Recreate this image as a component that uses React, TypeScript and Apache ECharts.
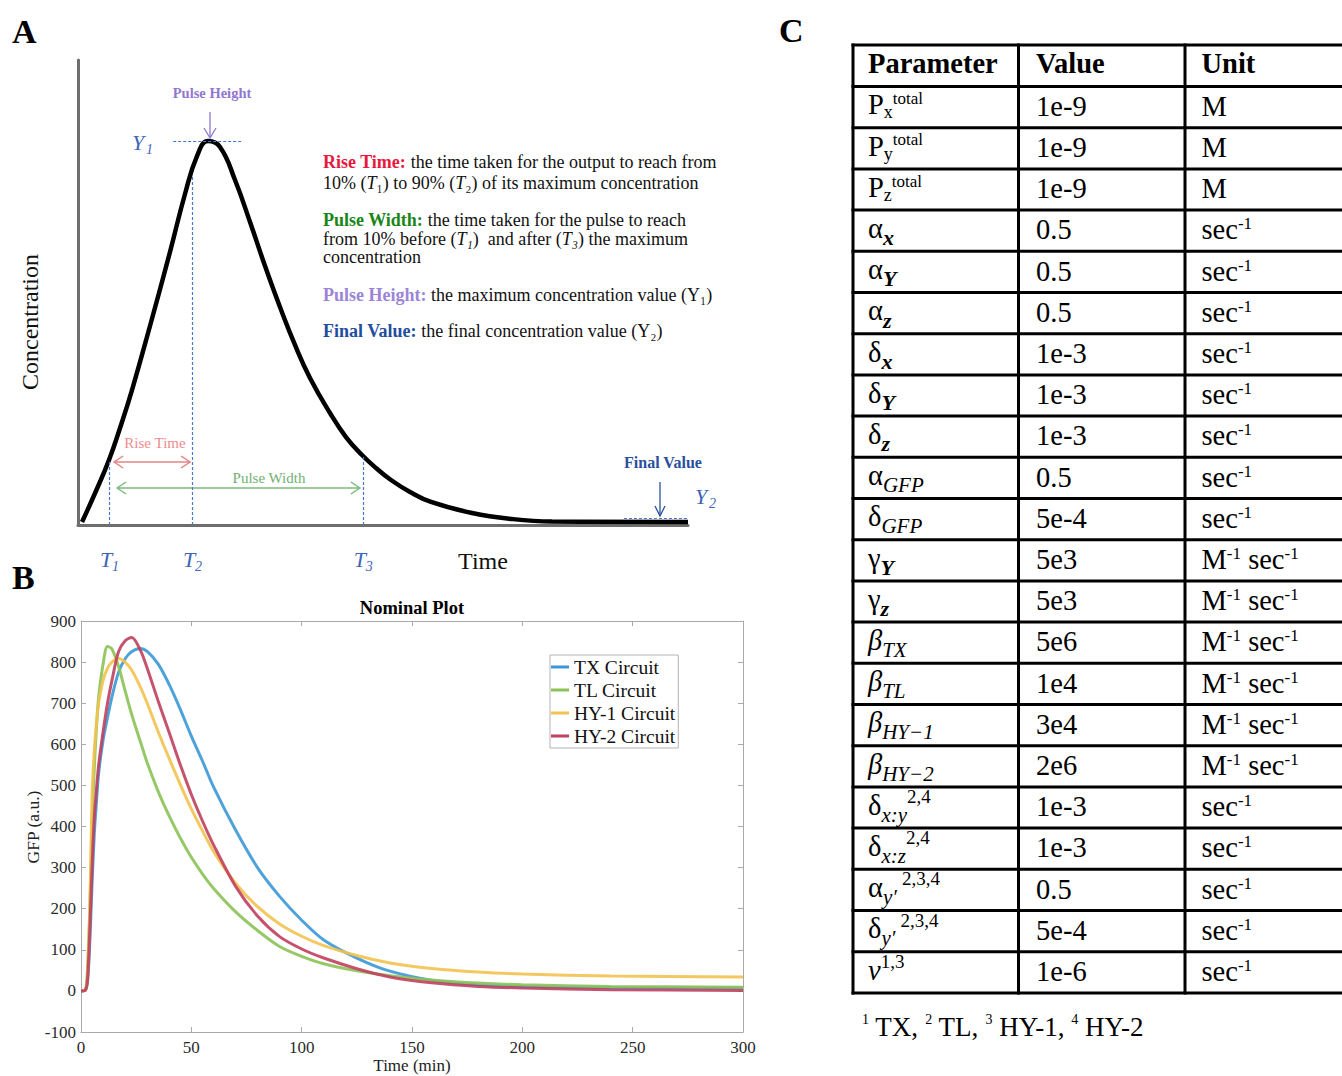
import React, { useEffect, useRef } from 'react';
import * as echarts from 'echarts';

const SERIF = '"Liberation Serif", "Times New Roman", Times, serif';

// ---------------- Panel A : schematic pulse (arbitrary units) ----------------
const schematicTime = [0.66, 2.95, 5.08, 6.89, 8.85, 11.8, 15.08, 17.54, 19.51, 21.31, 23.28, 25.74, 28.2, 30.66, 33.11, 35.57, 38.03, 41.31, 43.93, 46.56, 48.85, 51.31, 54.43, 57.87, 64.59, 71.15, 77.7, 100];
const schematicConc = [0.65, 7.31, 13.98, 20.86, 29.03, 42.8, 58.71, 71.18, 79.35, 82.58, 81.29, 74.19, 65.16, 55.7, 46.88, 38.71, 31.61, 24.09, 18.92, 15.05, 12.26, 9.68, 7.1, 4.95, 2.58, 1.29, 0.75, 0.65];
const pulseMarkTimes = [5.1, 18.7, 46.7]; // T1, T2, T3
const pulseMarkTops = [13.9, 75.0, 15.0];
const pulseMarkLabels = ['1', '2', '3'];
const peakLevel = 82.6;
const peakSpan = [15.6, 27.0];
const finalLevel = 1.5;
const finalSpan = [89.5, 100];

// ---------------- Panel B : nominal plot ----------------
const timeMin = [0, 2, 3, 4, 5, 6, 7, 8, 10, 12, 14, 17, 20, 23, 27, 30, 35, 40, 45, 50, 55, 60, 70, 80, 90, 100, 110, 125, 140, 160, 180, 200, 240, 300];
const txCircuit = [0, 2, 25, 120, 260, 380, 460, 530, 610, 665, 715, 775, 808, 826, 833, 826, 795, 745, 685, 620, 560, 497, 392, 300, 230, 172, 124, 80, 48, 25, 15, 11, 8, 7];
const tlCircuit = [0, 2, 60, 200, 400, 540, 640, 715, 795, 838, 832, 790, 730, 672, 605, 555, 485, 425, 372, 325, 285, 250, 193, 147, 108, 84, 66, 49, 37, 26, 19, 15, 11, 9];
const hy1Circuit = [0, 2, 50, 200, 470, 583, 650, 700, 755, 785, 800, 809, 800, 780, 738, 700, 630, 565, 502, 443, 390, 340, 262, 205, 163, 133, 110, 86, 68, 54, 46, 41, 36, 34];
const hy2Circuit = [0, 2, 30, 150, 300, 420, 490, 550, 630, 700, 755, 825, 852, 860, 828, 785, 705, 628, 550, 478, 414, 356, 255, 182, 132, 102, 80, 54, 34, 19, 11, 7, 3, 1];
const circuitNames = ['TX Circuit', 'TL Circuit', 'HY-1 Circuit', 'HY-2 Circuit'];
const circuitValues = [txCircuit, tlCircuit, hy1Circuit, hy2Circuit];
const circuitColors = ['#3b98d6', '#8cc257', '#f3c24f', '#c0405e'];

// ---------------- Panel C : parameter table ----------------
const tableHeader = ['Parameter', 'Value', 'Unit'];
const paramPieces: [string, string][][] = [
  [['n', 'P'], ['sub', 'x'], ['sup', 'total']],
  [['n', 'P'], ['sub', 'y'], ['sup', 'total']],
  [['n', 'P'], ['sub', 'z'], ['sup', 'total']],
  [['n', 'α'], ['msub', 'x']],
  [['n', 'α'], ['msub', 'Y']],
  [['n', 'α'], ['msub', 'z']],
  [['n', 'δ'], ['msub', 'x']],
  [['n', 'δ'], ['msub', 'Y']],
  [['n', 'δ'], ['msub', 'z']],
  [['n', 'α'], ['isub', 'GFP']],
  [['n', 'δ'], ['isub', 'GFP']],
  [['n', 'γ'], ['msub', 'Y']],
  [['n', 'γ'], ['msub', 'z']],
  [['ni', 'β'], ['isub', 'TX']],
  [['ni', 'β'], ['isub', 'TL']],
  [['ni', 'β'], ['isub', 'HY−1']],
  [['ni', 'β'], ['isub', 'HY−2']],
  [['n', 'δ'], ['isub', 'x:y'], ['sup2', '2,4']],
  [['n', 'δ'], ['isub', 'x:z'], ['sup2', '2,4']],
  [['n', 'α'], ['isub', 'y′ '], ['sup2', '2,3,4']],
  [['n', 'δ'], ['isub', 'y′ '], ['sup2', '2,3,4']],
  [['ni', 'ν'], ['sup2', '1,3']],
];
const paramValues = ['1e-9', '1e-9', '1e-9', '0.5', '0.5', '0.5', '1e-3', '1e-3', '1e-3', '0.5', '5e-4', '5e3', '5e3', '5e6', '1e4', '3e4', '2e6', '1e-3', '1e-3', '0.5', '5e-4', '1e-6'];
const paramUnits = ['M', 'M', 'M', 's', 's', 's', 's', 's', 's', 's', 's', 'Ms', 'Ms', 'Ms', 'Ms', 'Ms', 'Ms', 's', 's', 's', 's', 's'];
const unitPieces: Record<string, [string, string][]> = {
  M: [['n', 'M']],
  s: [['n', 'sec'], ['sup', '-1']],
  Ms: [['n', 'M'], ['sup', '-1'], ['n', ' sec'], ['sup', '-1']],
};
const footnotePieces: [string, string][] = [
  ['fs', '1'], ['f', ' TX, '], ['fs', '2'], ['f', ' TL, '], ['fs', '3'], ['f', ' HY-1, '], ['fs', '4'], ['f', ' HY-2'],
];

const PIECE: Record<string, { size: number; weight: string; style: string; dy: number }> = {
  n: { size: 28.5, weight: 'normal', style: 'normal', dy: 0 },
  ni: { size: 28.5, weight: 'normal', style: 'italic', dy: 0 },
  sub: { size: 18, weight: 'normal', style: 'normal', dy: 4 },
  msub: { size: 22, weight: 'bold', style: 'italic', dy: 7 },
  isub: { size: 21, weight: 'normal', style: 'italic', dy: 7 },
  sup: { size: 17, weight: 'normal', style: 'normal', dy: -10 },
  sup2: { size: 19, weight: 'normal', style: 'normal', dy: -12 },
  f: { size: 27, weight: 'normal', style: 'normal', dy: 0 },
  fs: { size: 14, weight: 'normal', style: 'normal', dy: -12 },
};

let measureCtx: CanvasRenderingContext2D | null = null;
function measure(text: string, size: number, weight: string, style: string) {
  if (!measureCtx) measureCtx = document.createElement('canvas').getContext('2d');
  if (!measureCtx) return text.length * size * 0.5;
  measureCtx.font = `${style} ${weight} ${size}px ${SERIF}`;
  return measureCtx.measureText(text).width;
}

function txt(x: number, y: number, text: string, o: any = {}) {
  return {
    type: 'text',
    x,
    y,
    rotation: o.rotation || 0,
    silent: true,
    style: {
      text,
      fontSize: o.fontSize || 16,
      fontFamily: SERIF,
      fontWeight: o.fontWeight || 'normal',
      fontStyle: o.fontStyle || 'normal',
      fill: o.fill || '#111',
      textAlign: o.textAlign || 'left',
      textVerticalAlign: 'middle',
      rich: o.rich,
    },
  };
}

function pieceElems(pieces: [string, string][], x0: number, baseline: number) {
  const out: any[] = [];
  let x = x0;
  for (const [kind, text] of pieces) {
    const k = PIECE[kind];
    out.push(
      txt(x, baseline + k.dy - 0.34 * k.size, text, {
        fontSize: k.size,
        fontWeight: k.weight,
        fontStyle: k.style,
        fill: '#000',
      })
    );
    x += measure(text, k.size, k.weight, k.style);
  }
  return out;
}

function arrowHead(x: number, y: number, dir: 'l' | 'r' | 'd', len: number, half: number) {
  if (dir === 'l') return [[x + len, y - half], [x, y], [x + len, y + half]];
  if (dir === 'r') return [[x - len, y - half], [x, y], [x - len, y + half]];
  return [[x - half, y - len], [x, y], [x + half, y - len]];
}

function buildOption() {
  const axisGrey = '#a9a9a9';
  const boxAxis = (extra: any) => ({
    gridIndex: 1,
    type: 'value',
    axisLine: { show: true, onZero: false, lineStyle: { color: axisGrey, width: 1 } },
    axisTick: { show: true, inside: true, length: 5, lineStyle: { color: axisGrey } },
    splitLine: { show: false },
    ...extra,
  });
  const tickLabel = { fontFamily: SERIF, fontSize: 17, color: '#2b2b2b' };
  return {
    animation: false,
    backgroundColor: '#ffffff',
    grid: [
      { left: 78, top: 60, width: 610, height: 465 },
      { left: 81, top: 621, width: 662, height: 411 },
    ],
    xAxis: [
      {
        gridIndex: 0,
        type: 'value',
        min: 0,
        max: 100,
        axisLine: { show: true, onZero: false, lineStyle: { color: '#6e6e6e', width: 3 } },
        axisTick: { show: false },
        axisLabel: { show: false },
        splitLine: { show: false },
      },
      boxAxis({ min: 0, max: 300, interval: 50, position: 'bottom', axisLabel: { ...tickLabel, margin: 7 } }),
      boxAxis({ min: 0, max: 300, interval: 50, position: 'top', axisLabel: { show: false } }),
    ],
    yAxis: [
      {
        gridIndex: 0,
        type: 'value',
        min: 0,
        max: 100,
        axisLine: { show: true, onZero: false, lineStyle: { color: '#6e6e6e', width: 3 } },
        axisTick: { show: false },
        axisLabel: { show: false },
        splitLine: { show: false },
      },
      boxAxis({ min: -100, max: 900, interval: 100, position: 'left', axisLabel: { ...tickLabel, margin: 5 } }),
      boxAxis({ min: -100, max: 900, interval: 100, position: 'right', axisLabel: { show: false } }),
    ],
    legend: {
      data: circuitNames,
      orient: 'vertical',
      left: 550,
      top: 655,
      icon: 'rect',
      itemWidth: 18,
      itemHeight: 3,
      itemGap: 3,
      padding: [2, 3, 2, 1],
      backgroundColor: '#ffffff',
      borderColor: '#b3b3b3',
      borderWidth: 1,
      textStyle: { fontFamily: SERIF, fontSize: 19.5, color: '#111' },
    },
    series: [
      {
        name: 'schematic',
        type: 'line',
        xAxisIndex: 0,
        yAxisIndex: 0,
        data: schematicTime.map((t, i) => [t, schematicConc[i]]),
        smooth: 0.45,
        showSymbol: false,
        lineStyle: { color: '#000', width: 4.5 },
        z: 3,
        markLine: {
          silent: true,
          symbol: 'none',
          label: { show: false },
          lineStyle: { color: '#4a78c8', type: [3, 2], width: 1.2 },
          data: [
            ...pulseMarkTimes.map((t, i) => [{ coord: [t, 0] }, { coord: [t, pulseMarkTops[i]] }]),
            [{ coord: [peakSpan[0], peakLevel] }, { coord: [peakSpan[1], peakLevel] }],
            [{ coord: [finalSpan[0], finalLevel] }, { coord: [finalSpan[1], finalLevel] }],
          ],
        },
      },
      ...circuitNames.map((name, i) => ({
        name,
        type: 'line',
        xAxisIndex: 1,
        yAxisIndex: 1,
        data: timeMin.map((t, j) => [t, circuitValues[i][j]]),
        smooth: 0.3,
        showSymbol: false,
        itemStyle: { color: circuitColors[i] },
        lineStyle: { color: circuitColors[i], width: 3, opacity: 0.9 },
        z: 2 + i,
      })),
    ],
  };
}

function buildGraphics(px: (t: number, c: number) => number[]) {
  const g: any[] = [];
  const blue = '#3d64b8';
  // panel letters
  g.push(txt(12, 31, 'A', { fontSize: 34, fontWeight: 'bold', fill: '#000' }));
  g.push(txt(12, 577, 'B', { fontSize: 34, fontWeight: 'bold', fill: '#000' }));
  g.push(txt(779, 30, 'C', { fontSize: 34, fontWeight: 'bold', fill: '#000' }));

  // ---- panel A annotations ----
  g.push(txt(30, 322, 'Concentration', { fontSize: 24, textAlign: 'center', rotation: Math.PI / 2 }));
  g.push(txt(483, 561, 'Time', { fontSize: 24, textAlign: 'center' }));
  pulseMarkTimes.forEach((t, i) => {
    const [x] = px(t, 0);
    g.push(txt(x - 9, 559, 'T', { fontSize: 22, fontStyle: 'italic', fill: blue }));
    g.push(txt(x + 3, 566, pulseMarkLabels[i], { fontSize: 14, fontStyle: 'italic', fill: blue }));
  });
  g.push(txt(132, 142, 'Y', { fontSize: 22, fontStyle: 'italic', fill: blue }));
  g.push(txt(146, 149, '1', { fontSize: 14, fontStyle: 'italic', fill: blue }));
  g.push(txt(695, 496, 'Y', { fontSize: 22, fontStyle: 'italic', fill: blue }));
  g.push(txt(709, 503, '2', { fontSize: 14, fontStyle: 'italic', fill: blue }));

  // Pulse height arrow
  const purple = '#9077d0';
  g.push(txt(212, 93, 'Pulse Height', { fontSize: 14.5, fontWeight: 'bold', fill: purple, textAlign: 'center' }));
  g.push({ type: 'line', silent: true, shape: { x1: 210, y1: 112, x2: 210, y2: 137 }, style: { stroke: purple, lineWidth: 1.3 } });
  g.push({ type: 'polyline', silent: true, shape: { points: arrowHead(210, 138, 'd', 10, 6) }, style: { stroke: purple, lineWidth: 1.3, fill: 'none' } });

  // Rise time double arrow
  const pink = '#e58383';
  const [rx1] = px(pulseMarkTimes[0], 0);
  const [rx2] = px(pulseMarkTimes[1], 0);
  g.push(txt(155, 443, 'Rise Time', { fontSize: 15, fill: '#ef8b8b', textAlign: 'center' }));
  g.push({ type: 'line', silent: true, shape: { x1: rx1 + 5, y1: 462, x2: rx2 - 2, y2: 462 }, style: { stroke: pink, lineWidth: 1.5 } });
  g.push({ type: 'polyline', silent: true, shape: { points: arrowHead(rx1 + 5, 462, 'l', 9, 6) }, style: { stroke: pink, lineWidth: 1.5, fill: 'none' } });
  g.push({ type: 'polyline', silent: true, shape: { points: arrowHead(rx2 - 2, 462, 'r', 9, 6) }, style: { stroke: pink, lineWidth: 1.5, fill: 'none' } });

  // Pulse width double arrow
  const green = '#7dba7d';
  const [wx2] = px(pulseMarkTimes[2], 0);
  g.push(txt(269, 478, 'Pulse Width', { fontSize: 15, fill: '#72b072', textAlign: 'center' }));
  g.push({ type: 'line', silent: true, shape: { x1: rx1 + 8, y1: 488, x2: wx2 - 3, y2: 488 }, style: { stroke: green, lineWidth: 1.5 } });
  g.push({ type: 'polyline', silent: true, shape: { points: arrowHead(rx1 + 8, 488, 'l', 9, 6) }, style: { stroke: green, lineWidth: 1.5, fill: 'none' } });
  g.push({ type: 'polyline', silent: true, shape: { points: arrowHead(wx2 - 3, 488, 'r', 9, 6) }, style: { stroke: green, lineWidth: 1.5, fill: 'none' } });

  // Final value arrow
  const navy = '#2b4f9d';
  g.push(txt(663, 462, 'Final Value', { fontSize: 16, fontWeight: 'bold', fill: navy, textAlign: 'center' }));
  g.push({ type: 'line', silent: true, shape: { x1: 660, y1: 482, x2: 660, y2: 515 }, style: { stroke: navy, lineWidth: 1.3 } });
  g.push({ type: 'polyline', silent: true, shape: { points: arrowHead(660, 516, 'd', 10, 5) }, style: { stroke: navy, lineWidth: 1.3, fill: 'none' } });

  // Description block
  const fs = 18;
  const base = { fontSize: fs, fontFamily: SERIF };
  const rich = {
    r: { ...base, fill: '#e8183c', fontWeight: 'bold' },
    g: { ...base, fill: '#1a861a', fontWeight: 'bold' },
    p: { ...base, fill: '#9b85d6', fontWeight: 'bold' },
    b: { ...base, fill: '#1f4e9e', fontWeight: 'bold' },
    i: { ...base, fill: '#111', fontStyle: 'italic' },
  };
  const descLines: [string, number][] = [
    ['{r|Rise Time:} the time taken for the output to reach from', 168],
    ['10% ({i|T}₁) to 90% ({i|T}₂) of its maximum concentration', 189],
    ['{g|Pulse Width:} the time taken for the pulse to reach', 226],
    ['from 10% before ({i|T₁})  and after ({i|T₃}) the maximum', 245],
    ['concentration', 263],
    ['{p|Pulse Height:} the maximum concentration value (Y₁)', 301],
    ['{b|Final Value:} the final concentration value (Y₂)', 337],
  ];
  descLines.forEach(([t, b]) => g.push(txt(323, b - 0.34 * fs, t, { fontSize: fs, rich })));

  // ---- panel B texts ----
  g.push(txt(412, 608, 'Nominal Plot', { fontSize: 18.5, fontWeight: 'bold', textAlign: 'center', fill: '#000' }));
  g.push(txt(412, 1065, 'Time (min)', { fontSize: 17, textAlign: 'center', fill: '#222' }));
  g.push(txt(33, 827, 'GFP (a.u.)', { fontSize: 17.5, textAlign: 'center', rotation: Math.PI / 2, fill: '#222' }));

  // ---- panel C table ----
  const cols = [853, 1018.5, 1185];
  const right = 1350;
  const top = 45;
  const headH = 41.5;
  const rowH = 41.2;
  const nRows = paramPieces.length;
  const bottom = top + headH + nRows * rowH;
  const lineStyle = { stroke: '#000', lineWidth: 3 };
  const hLines = [top, ...Array.from({ length: nRows + 1 }, (_, i) => top + headH + i * rowH)];
  hLines.forEach((y) => g.push({ type: 'line', silent: true, shape: { x1: cols[0] - 1.5, y1: y, x2: right, y2: y }, style: lineStyle }));
  cols.forEach((x) => g.push({ type: 'line', silent: true, shape: { x1: x, y1: top - 1.5, x2: x, y2: bottom + 1.5 }, style: lineStyle }));
  const textX = [868, 1036, 1201.5];
  tableHeader.forEach((h, i) => g.push(txt(textX[i], top + 28 - 0.34 * 28.5, h, { fontSize: 28.5, fontWeight: 'bold', fill: '#000' })));
  paramPieces.forEach((pieces, r) => {
    const rowTop = top + headH + r * rowH;
    g.push(...pieceElems(pieces, textX[0], rowTop + 28));
    g.push(...pieceElems([['n', paramValues[r]]], textX[1], rowTop + 29.5));
    g.push(...pieceElems(unitPieces[paramUnits[r]], textX[2], rowTop + 29.5));
  });
  g.push(...pieceElems(footnotePieces, 862, 1036));
  return g;
}

export default function App() {
  const ref = useRef<HTMLDivElement>(null);
  useEffect(() => {
    if (!ref.current) return;
    const chart = echarts.init(ref.current, null, { renderer: 'svg' });
    chart.setOption(buildOption() as any);
    const px = (t: number, c: number) =>
      chart.convertToPixel({ xAxisIndex: 0, yAxisIndex: 0 } as any, [t, c]) as unknown as number[];
    chart.setOption({ graphic: buildGraphics(px) } as any);
    return () => chart.dispose();
  }, []);
  return (
    <div
      ref={ref}
      style={{ position: 'absolute', left: 0, top: 0, width: 1342, height: 1076, background: '#ffffff' }}
    />
  );
}
